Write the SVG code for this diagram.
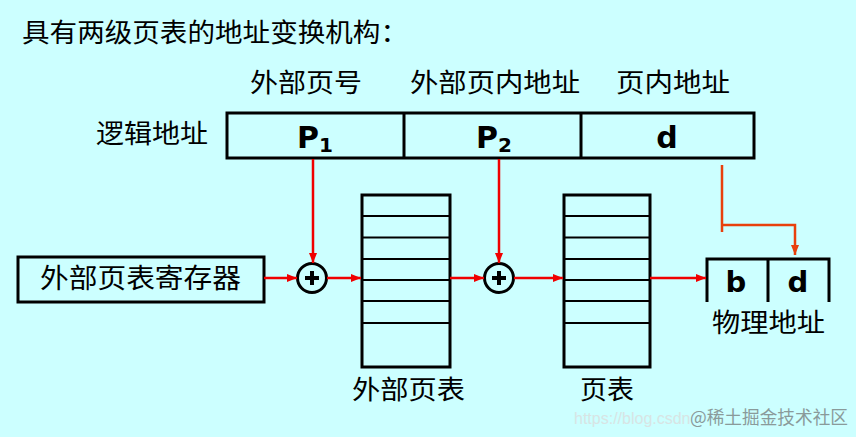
<svg xmlns="http://www.w3.org/2000/svg" width="856" height="437" viewBox="0 0 856 437">
<defs>
<style>
.cn{font-family:"Noto Sans CJK SC","Noto Sans",sans-serif;fill:#000;}
.lat{font-family:"DejaVu Sans","Liberation Sans",sans-serif;font-weight:bold;fill:#000;}
.box{fill:none;stroke:#000;stroke-width:3;}
.row{stroke:#000;stroke-width:2;}
.red{stroke:#F00000;stroke-width:2.5;fill:none;}
.org{stroke:#E8400C;stroke-width:2.5;fill:none;}
.wm{font-family:"Liberation Sans","Noto Sans CJK SC",sans-serif;fill:#D8E4E4;}
.wm2{font-family:"Noto Sans CJK SC","Noto Sans",sans-serif;fill:#8A9A9A;}
</style>
<marker id="ar" markerWidth="10" markerHeight="8" refX="10" refY="4" orient="auto" markerUnits="userSpaceOnUse">
<path d="M0,0 L10,4 L0,8 z" fill="#F00000"/>
</marker>
<marker id="ao" markerWidth="10" markerHeight="8" refX="10" refY="4" orient="auto" markerUnits="userSpaceOnUse">
<path d="M0,0 L10,4 L0,8 z" fill="#E8400C"/>
</marker>
</defs>
<rect width="856" height="437" fill="#CCFFFF"/>

<g id="title">
<text class="cn" x="22" y="42" font-size="26" textLength="386" lengthAdjust="spacingAndGlyphs">具有两级页表的地址变换机构：</text>
</g>

<g id="field-labels">
<text class="cn" x="250" y="92" font-size="26" textLength="112" lengthAdjust="spacingAndGlyphs">外部页号</text>
<text class="cn" x="410" y="92" font-size="26" textLength="170" lengthAdjust="spacingAndGlyphs">外部页内地址</text>
<text class="cn" x="616" y="92" font-size="26" textLength="114" lengthAdjust="spacingAndGlyphs">页内地址</text>
</g>

<g id="logical-address">
<text class="cn" x="96" y="143" font-size="26" textLength="112" lengthAdjust="spacingAndGlyphs">逻辑地址</text>
<rect class="box" x="227" y="113" width="527" height="45"/>
<line class="box" x1="404" y1="113" x2="404" y2="158"/>
<line class="box" x1="581" y1="113" x2="581" y2="158"/>
<text class="lat" x="297" y="148" font-size="30">P<tspan font-size="20" dy="4">1</tspan></text>
<text class="lat" x="476" y="148" font-size="30">P<tspan font-size="20" dy="4">2</tspan></text>
<text class="lat" x="667" y="148" font-size="30" text-anchor="middle">d</text>
</g>

<g id="register">
<rect class="box" x="18" y="257" width="246" height="45"/>
<text class="cn" x="40" y="288" font-size="27" textLength="201" lengthAdjust="spacingAndGlyphs">外部页表寄存器</text>
</g>

<g id="adder1">
<circle cx="312" cy="278" r="14.5" fill="#CCFFFF" stroke="#000" stroke-width="3"/>
<path d="M305,278 H319 M312,271 V285" stroke="#000" stroke-width="4"/>
</g>

<g id="outer-page-table">
<rect class="box" x="362" y="195" width="88" height="172"/>
<path class="row" d="M362,216 H450 M362,237.5 H450 M362,259 H450 M362,280 H450 M362,301 H450 M362,323 H450"/>
<text class="cn" x="352" y="399" font-size="26" textLength="113" lengthAdjust="spacingAndGlyphs">外部页表</text>
</g>

<g id="adder2">
<circle cx="499" cy="278" r="14.5" fill="#CCFFFF" stroke="#000" stroke-width="3"/>
<path d="M492,278 H506 M499,271 V285" stroke="#000" stroke-width="4"/>
</g>

<g id="page-table">
<rect class="box" x="564" y="195" width="86" height="172"/>
<path class="row" d="M564,216 H650 M564,237.5 H650 M564,259 H650 M564,280 H650 M564,301 H650 M564,323 H650"/>
<text class="cn" x="580" y="399" font-size="26" textLength="54" lengthAdjust="spacingAndGlyphs">页表</text>
</g>

<g id="physical-address">
<path class="box" d="M707,302 V259 H829 V302 M768,259 V302"/>
<text class="lat" x="736" y="292" font-size="29" text-anchor="middle">b</text>
<text class="lat" x="798" y="292" font-size="29" text-anchor="middle">d</text>
<text class="cn" x="712" y="332" font-size="26" textLength="113" lengthAdjust="spacingAndGlyphs">物理地址</text>
</g>

<g id="connectors">
<line class="red" x1="313" y1="159" x2="313" y2="263" marker-end="url(#ar)"/>
<line class="red" x1="499" y1="159" x2="499" y2="263" marker-end="url(#ar)"/>
<line class="red" x1="264" y1="278" x2="297" y2="278" marker-end="url(#ar)"/>
<line class="red" x1="327" y1="278" x2="361" y2="278" marker-end="url(#ar)"/>
<line class="red" x1="450" y1="278" x2="484" y2="278" marker-end="url(#ar)"/>
<line class="red" x1="514" y1="278" x2="563" y2="278" marker-end="url(#ar)"/>
<line class="red" x1="650" y1="278" x2="706" y2="278" marker-end="url(#ar)"/>
<path class="org" d="M722,165 V232 M722,225 H795 V255" marker-end="url(#ao)"/>
</g>

<g id="watermark">
<text class="wm" x="574" y="424" font-size="16">https://blog.csdn</text>
<text class="wm2" x="690" y="424" font-size="18" textLength="158" lengthAdjust="spacingAndGlyphs">@稀土掘金技术社区</text>
</g>
</svg>
